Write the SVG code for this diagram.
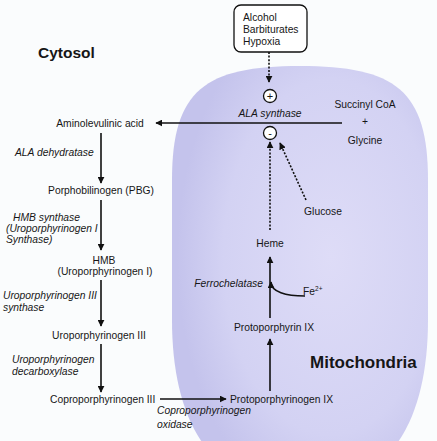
<svg xmlns="http://www.w3.org/2000/svg" width="437" height="441" viewBox="0 0 437 441">
<defs>
<radialGradient id="mito" cx="0.62" cy="0.45" r="0.6">
<stop offset="0" stop-color="#dedcf7"/>
<stop offset="0.7" stop-color="#d3d2f3"/>
<stop offset="1" stop-color="#c4c3ec"/>
</radialGradient>
<marker id="ah" viewBox="0 0 10 10" refX="9" refY="5" markerWidth="7" markerHeight="7" markerUnits="userSpaceOnUse" orient="auto">
<path d="M0,0 L10,5 L0,10 z" fill="#111"/>
</marker>
</defs>
<style>
text{font-family:"Liberation Sans",Arial,sans-serif;font-size:10.3px;fill:#161616}
.i{font-style:italic}
.c{text-anchor:middle}
.b{font-weight:bold}
.ln{stroke:#111;stroke-width:1.6;fill:none}
.dt{stroke:#111;stroke-width:1.6;fill:none;stroke-dasharray:2 1.6}
.circ{fill:#fff;stroke:#111;stroke-width:1.3}
</style>
<rect width="437" height="441" fill="#fafcfd"/>
<path id="mitochondria" d="M300,66 C205,66 172,90 172,180 L172,320 C172,420 210,490 300,490 C390,490 428,420 428,320 L428,180 C428,90 395,66 300,66 Z" fill="url(#mito)"/>
<text x="38" y="58" class="b" style="font-size:15.5px">Cytosol</text>
<text x="310" y="368" class="b" style="font-size:17px">Mitochondria</text>

<g id="connectors">
<path class="dt" d="M269,52 L269,82" marker-end="url(#ah)"/>
<path class="ln" d="M342,123 L156,123" marker-end="url(#ah)"/>
<path class="dt" d="M270,230 L270,142" marker-end="url(#ah)"/>
<path class="dt" d="M306,200 L280,143" marker-end="url(#ah)"/>
<path class="ln" d="M270,318 L270,257" marker-end="url(#ah)"/>
<path class="ln" d="M305,296 C286,296 271,292 271,282" marker-end="url(#ah)"/>
<path class="ln" d="M270,391 L270,339" marker-end="url(#ah)"/>
<path class="ln" d="M160,399 L226,399" marker-end="url(#ah)"/>
<path class="ln" d="M101,133 L101,183" marker-end="url(#ah)"/>
<path class="ln" d="M101,200 L101,250" marker-end="url(#ah)"/>
<path class="ln" d="M101,280 L101,326" marker-end="url(#ah)"/>
<path class="ln" d="M101,344 L101,392" marker-end="url(#ah)"/>
</g>

<g id="inducers">
<rect x="234" y="5" width="73" height="47" rx="7" fill="#fff" stroke="#111" stroke-width="1.3"/>
<text x="243" y="21">Alcohol</text>
<text x="243" y="33">Barbiturates</text>
<text x="243" y="45">Hypoxia</text>
</g>
<g id="plus">
<circle class="circ" cx="270" cy="96" r="6.5"/>
<text x="270" y="100" class="c" style="font-size:11px">+</text>
</g>
<g id="ala-synthase"><text x="270" y="117" class="c i">ALA synthase</text></g>
<g id="minus">
<circle class="circ" cx="270" cy="133" r="6.5"/>
<text x="270" y="137" class="c" style="font-size:11px">-</text>
</g>
<g id="substrates">
<text x="365" y="108" class="c">Succinyl CoA</text>
<text x="365" y="125" class="c">+</text>
<text x="365" y="144" class="c">Glycine</text>
</g>
<g id="glucose"><text x="323" y="215" class="c">Glucose</text></g>
<g id="heme"><text x="270" y="247" class="c">Heme</text></g>
<g id="ferrochelatase"><text x="263" y="287" class="i" text-anchor="end">Ferrochelatase</text></g>
<g id="fe"><text x="303" y="295">Fe<tspan dy="-4" style="font-size:6.5px">2+</tspan></text></g>
<g id="protoporphyrin"><text x="274" y="331" class="c">Protoporphyrin IX</text></g>
<g id="protoporphyrinogen"><text x="230" y="403">Protoporphyrinogen IX</text></g>
<g id="copro-oxidase">
<text x="157" y="414" class="i">Coproporphyrinogen</text>
<text x="157" y="428" class="i">oxidase</text>
</g>

<g id="ala"><text x="100" y="127" class="c">Aminolevulinic acid</text></g>
<g id="ala-dehydratase"><text x="15" y="156" class="i">ALA dehydratase</text></g>
<g id="pbg"><text x="101" y="194" class="c">Porphobilinogen (PBG)</text></g>
<g id="hmb-synthase">
<text x="13" y="221" class="i">HMB synthase</text>
<text x="6" y="232" class="i">(Uroporphyrinogen I</text>
<text x="6" y="243" class="i">Synthase)</text>
</g>
<g id="hmb">
<text x="104" y="264" class="c">HMB</text>
<text x="105" y="275" class="c">(Uroporphyrinogen I)</text>
</g>
<g id="uro3-synthase">
<text x="3" y="299" class="i">Uroporphyrinogen III</text>
<text x="3" y="311" class="i">synthase</text>
</g>
<g id="uro3"><text x="99" y="339" class="c">Uroporphyrinogen III</text></g>
<g id="uro-decarboxylase">
<text x="12" y="363" class="i">Uroporphyrinogen</text>
<text x="12" y="375" class="i">decarboxylase</text>
</g>
<g id="copro3"><text x="50" y="403">Coproporphyrinogen III</text></g>
</svg>
